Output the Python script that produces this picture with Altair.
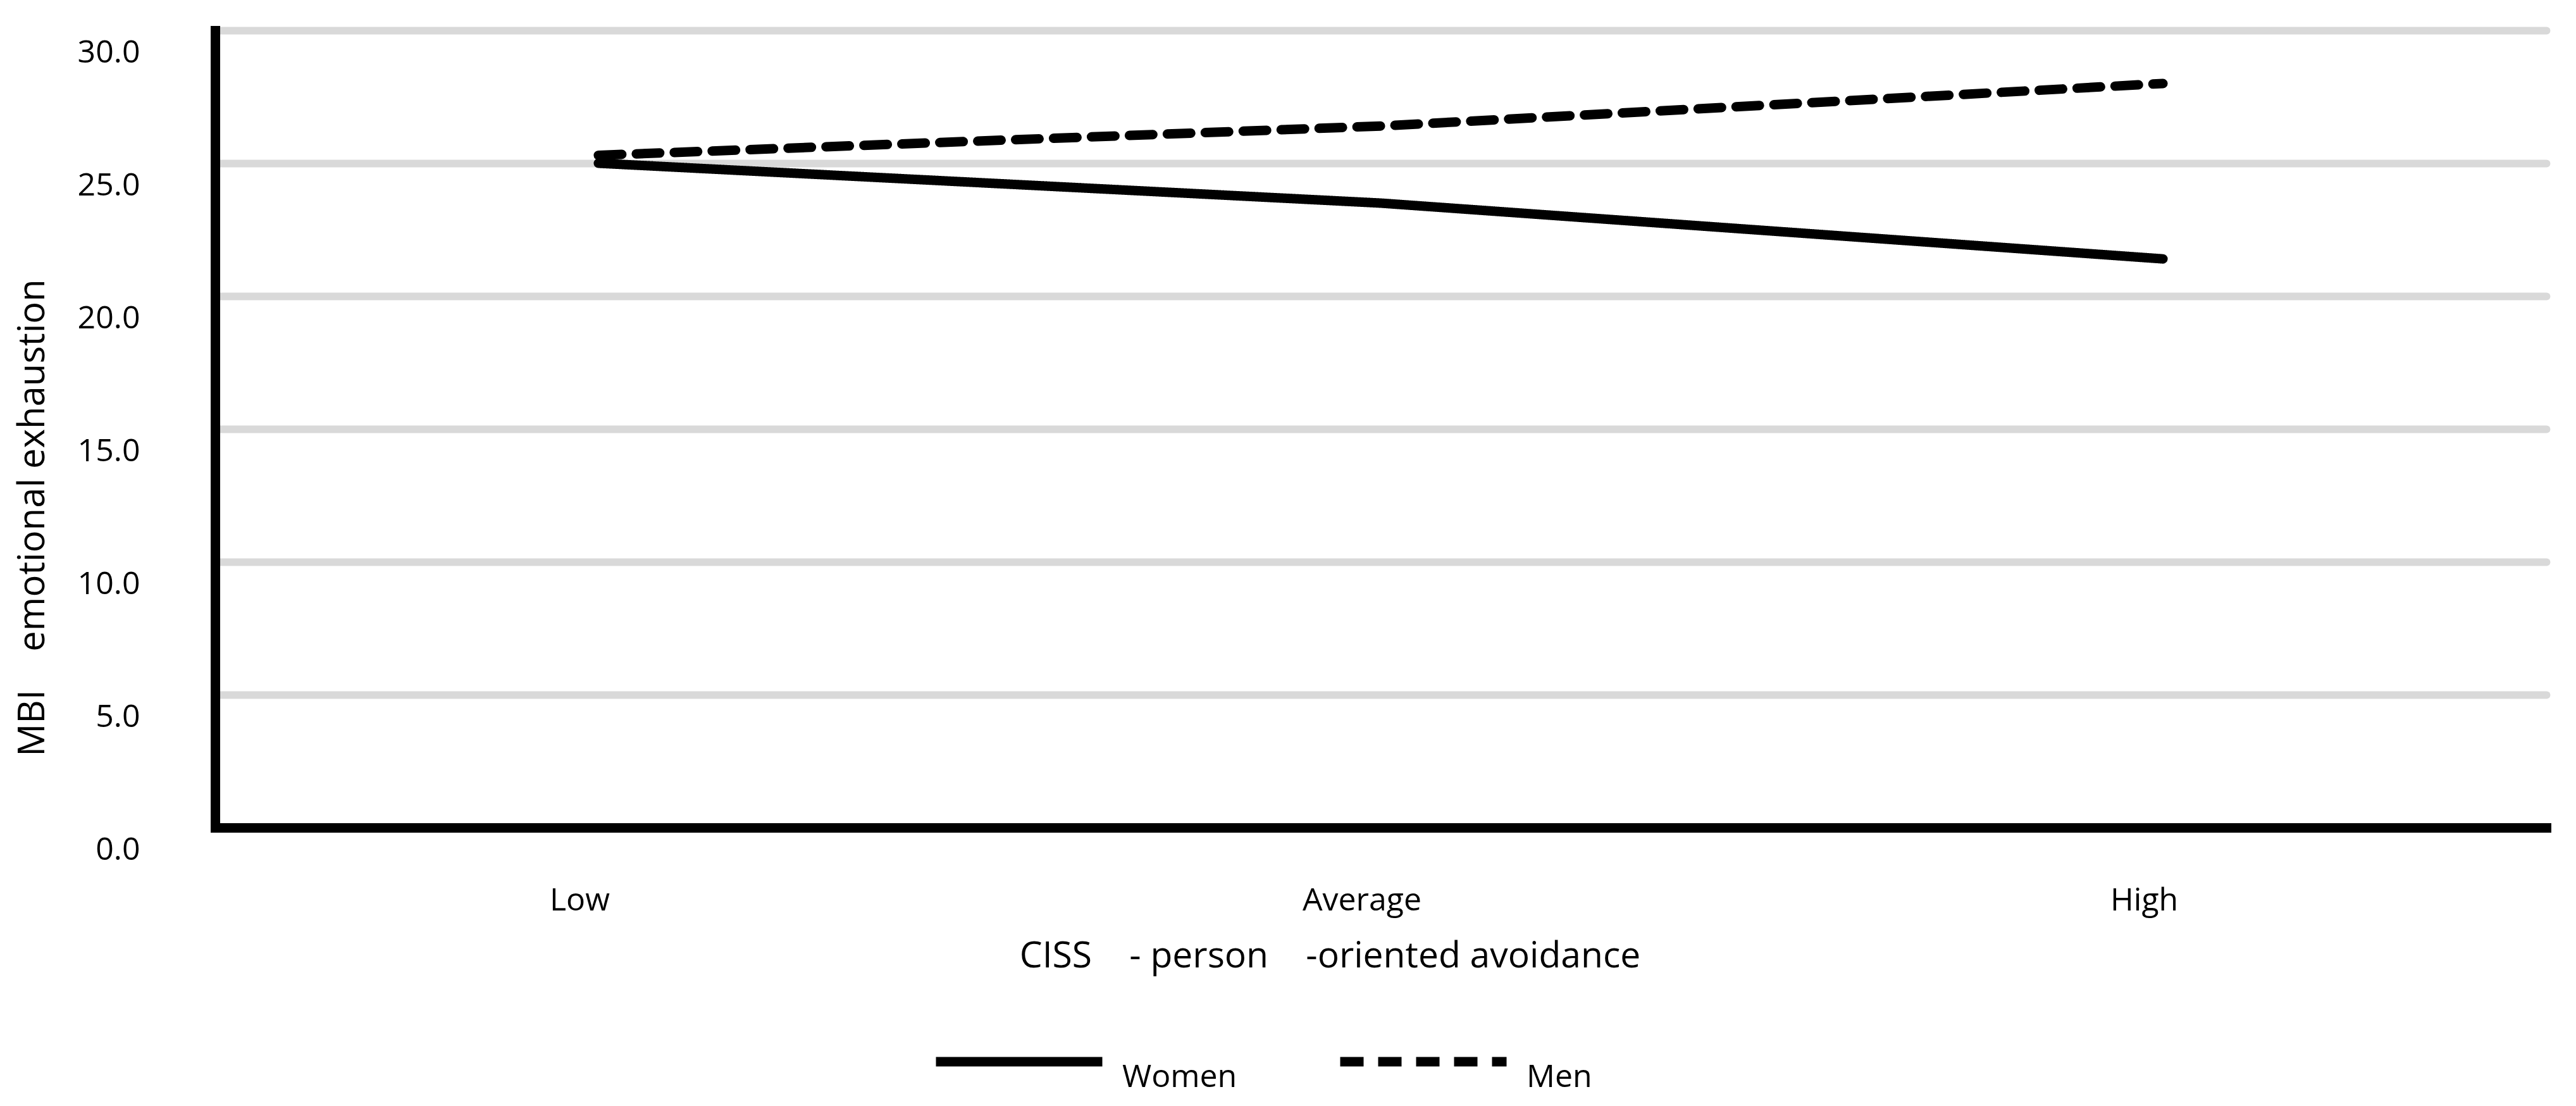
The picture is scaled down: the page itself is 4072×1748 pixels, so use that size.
import altair as alt
import pandas as pd

levels = ["Low", "Average", "High"]
series_names = ["Women", "Men"]
women = [25.0, 23.5, 21.4]
men = [25.3, 26.4, 28.0]
y_ticks = [0, 5, 10, 15, 20, 25, 30]

NB = "\u00a0"
x_title = "CISS" + NB * 4 + "- person" + NB * 4 + "-oriented avoidance"
y_title = "MBI" + NB * 4 + "emotional exhaustion"

rows = []
for name, vals in zip(series_names, [women, men]):
    for lvl, v in zip(levels, vals):
        rows.append({"level": lvl, "value": v, "series": name})
df = pd.DataFrame(rows)

FONT = "Open Sans"

chart = alt.Chart(df).mark_line(
    color="black", strokeWidth=15, strokeCap="round", strokeJoin="round"
).encode(
    x=alt.X(
        "level:N",
        sort=levels,
        scale=alt.Scale(type="point", padding=0.49),
        axis=alt.Axis(
            title=x_title,
            labelAngle=0,
            labelFont=FONT,
            labelFontSize=50,
            labelColor="black",
            labelPadding=90,
            labelOffset=-30,
            labelLimit=1000,
            ticks=False,
            tickSize=0,
            grid=False,
            domainColor="black",
            domainWidth=15,
            domainCap="square",
            titleFont=FONT,
            titleFontSize=57,
            titleFontWeight="normal",
            titleColor="black",
            titleX=1762,
            titleY=203,
            titleAlign="center",
            titleBaseline="middle",
            titleLimit=3000,
        ),
    ),
    y=alt.Y(
        "value:Q",
        scale=alt.Scale(domain=[0, 30], nice=False, zero=True),
        axis=alt.Axis(
            title=y_title,
            values=y_ticks,
            format=".1f",
            labelFont=FONT,
            labelFontSize=50,
            labelColor="black",
            labelPadding=119,
            labelOffset=35,
            labelLimit=1000,
            ticks=False,
            tickSize=0,
            grid=True,
            gridColor="#d9d9d9",
            gridWidth=12,
            gridCap="round",
            domainColor="black",
            domainWidth=15,
            domainCap="square",
            titleFont=FONT,
            titleFontSize=58,
            titleFontWeight="normal",
            titleColor="black",
            titleX=-288,
            titleY=770,
            titleAlign="center",
            titleBaseline="middle",
            titleLimit=3000,
        ),
    ),
    strokeDash=alt.StrokeDash(
        "series:N",
        sort=series_names,
        scale=alt.Scale(domain=series_names, range=[[1, 0], [37, 23]]),
        legend=alt.Legend(
            title=None,
            orient="none",
            direction="horizontal",
            legendX=1132,
            legendY=1491,
            symbolType="stroke",
            symbolSize=69169,
            symbolStrokeWidth=15,
            symbolStrokeColor="black",
            labelFont=FONT,
            labelFontSize=50,
            labelColor="black",
            labelOffset=24,
            labelBaseline="top",
            labelLimit=1000,
            columnPadding=132,
            padding=0,
        ),
    ),
).properties(
    width=3685,
    height=1260,
    autosize=alt.AutoSizeParams(type="none"),
    padding={"left": 332, "top": 40, "right": 30, "bottom": 430},
).configure_view(strokeWidth=0)

chart.save("out.html", embed_options={"renderer": "svg", "actions": False})
